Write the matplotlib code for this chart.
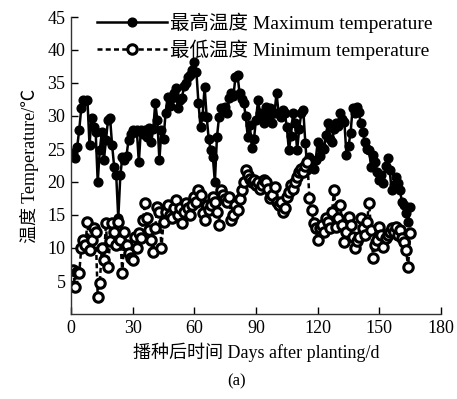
import matplotlib
matplotlib.use("Agg")
import matplotlib.pyplot as plt
import numpy as np

plt.rcParams['font.family'] = ['Liberation Serif', 'Noto Sans CJK SC']
plt.rcParams['mathtext.fontset'] = 'stix'

days = list(range(1, 166))

tmax = [24.4, 23.6, 25.3, 27.9, 31.2, 32.4, 32.2, 32.4, 25.6, 29.7,
        28.3, 27.6, 20.0, 24.8, 27.6, 23.3, 26.4, 29.4, 29.7, 25.6,
        22.3, 21.0, 14.5, 21.0, 23.8, 23.3, 24.0, 26.4, 27.2, 27.9,
        27.5, 27.9, 23.0, 27.9, 27.2, 27.9, 26.8, 28.2, 26.0, 28.0,
        32.0, 29.4, 23.3, 27.9, 26.5, 30.4, 32.9, 31.5, 32.7, 33.5,
        34.2, 31.2, 32.4, 32.8, 34.5, 35.0, 35.9, 36.2, 37.0, 38.2,
        36.7, 32.0, 28.3, 30.0, 34.4, 29.9, 26.5, 24.8, 23.8, 20.0,
        26.8, 29.8, 31.2, 31.0, 31.4, 30.5, 32.7, 33.5, 33.0, 35.9,
        36.2, 33.5, 32.5, 32.0, 30.0, 26.8, 28.6, 25.2, 26.5, 29.4,
        32.4, 30.4, 29.5, 28.9, 31.4, 30.0, 31.2, 28.9, 30.5, 33.5,
        30.4, 29.9, 30.9, 30.5, 28.3, 24.8, 27.0, 30.4, 29.0, 24.8,
        28.0, 30.4, 30.9, 25.9, 21.8, 23.8, 22.9, 22.0, 23.3, 26.0,
        24.0, 25.3, 25.0, 27.1, 28.9, 26.5, 26.0, 28.0, 28.9, 28.5,
        30.4, 29.5, 29.1, 24.1, 25.5, 27.4, 31.2, 30.5, 31.4, 30.6,
        28.9, 27.5, 26.0, 25.0, 24.8, 22.3, 24.1, 23.0, 21.5, 20.3,
        21.0, 19.8, 22.5, 23.6, 21.8, 18.8, 19.5, 20.8, 19.8, 18.8,
        17.0, 16.5, 15.3, 14.0, 16.2]

tmin = [6.7, 4.1, 6.4, 6.2, 10.0, 11.2, 10.5, 13.9, 9.7, 11.2,
        13.0, 12.4, 2.6, 4.7, 10.0, 8.2, 13.8, 7.1, 11.0, 13.8,
        12.5, 10.5, 13.9, 11.2, 6.2, 12.4, 10.5, 9.2, 8.5, 8.2,
        11.7, 10.0, 12.3, 11.5, 14.2, 16.8, 14.5, 12.7, 11.2, 9.4,
        13.0, 16.2, 15.5, 10.0, 14.0, 15.5, 16.5, 15.0, 14.5, 16.0,
        17.3, 15.0, 16.0, 13.8, 15.5, 16.8, 16.0, 15.0, 16.5, 17.7,
        17.0, 18.8, 18.0, 15.3, 14.2, 16.5, 15.8, 16.5, 17.7, 17.0,
        15.5, 13.5, 18.8, 18.0, 17.5, 17.0, 17.7, 14.2, 15.0, 16.5,
        15.8, 17.5, 18.8, 20.0, 21.8, 21.0, 20.5, 20.0, 20.3, 19.5,
        20.0, 19.0, 19.5, 20.3, 20.0, 19.0, 17.6, 18.0, 19.2, 17.0,
        16.5, 17.0, 15.5, 16.0, 17.7, 18.5, 19.5, 19.0, 20.0, 20.8,
        21.5, 22.0, 21.5, 22.5, 23.0, 17.6, 15.8, 13.8, 13.0, 11.2,
        13.0, 13.5, 12.5, 14.5, 14.0, 13.0, 15.5, 18.8, 13.2, 14.5,
        16.5, 13.5, 10.9, 12.5, 14.7, 13.5, 11.7, 10.0, 11.0, 11.7,
        14.5, 13.0, 12.0, 14.0, 16.8, 12.7, 8.5, 10.5, 11.2, 13.2,
        12.0, 10.2, 11.5, 12.0, 12.4, 13.0, 12.5, 13.2, 12.0, 12.7,
        11.5, 10.9, 9.7, 7.1, 12.3]

xticks = [0, 30, 60, 90, 120, 150, 180]
yticks = [5, 10, 15, 20, 25, 30, 35, 40, 45]

W, H = 457, 399
fig = plt.figure(figsize=(W / 100, H / 100), dpi=100)
ax = fig.add_axes([71 / W, 1 - 314 / H, (441 - 71) / W, (314 - 17) / H])

ax.plot(days, tmax, '-', color='black', lw=1.8, marker='o', ms=6.3,
        mfc='black', mec='black', label='最高温度 Maximum temperature')
ax.plot(days, tmin, linestyle=(0, (2.0, 1.3)), color='black', lw=1.8, marker='o',
        ms=6.8, mfc='white', mec='black', mew=2.2,
        label='最低温度 Minimum temperature')

ax.set_xlim(0, 180)
ax.set_ylim(0, 45)
ax.set_xticks(xticks)
ax.set_yticks(yticks)
ax.spines['top'].set_visible(False)
ax.spines['right'].set_visible(False)
for s in ['left', 'bottom']:
    ax.spines[s].set_linewidth(1.0)
    ax.spines[s].set_color('#333333')
ax.tick_params(direction='in', length=5, width=1, labelsize=13, pad=4)

ax.set_xlabel('播种后时间 Days after planting/d', fontsize=13, labelpad=4)
ax.set_ylabel('温度 Temperature/℃', fontsize=13, labelpad=6)

leg = ax.legend(loc='upper left', bbox_to_anchor=(0.05, 1.04), frameon=False,
                fontsize=14, handlelength=3.6, handletextpad=0.15,
                labelspacing=0.33, borderaxespad=0)

fig.text(237 / W, 1 - 381 / H, '(a)', ha='center', va='center', fontsize=12)

fig.savefig('out.png', dpi=100)
